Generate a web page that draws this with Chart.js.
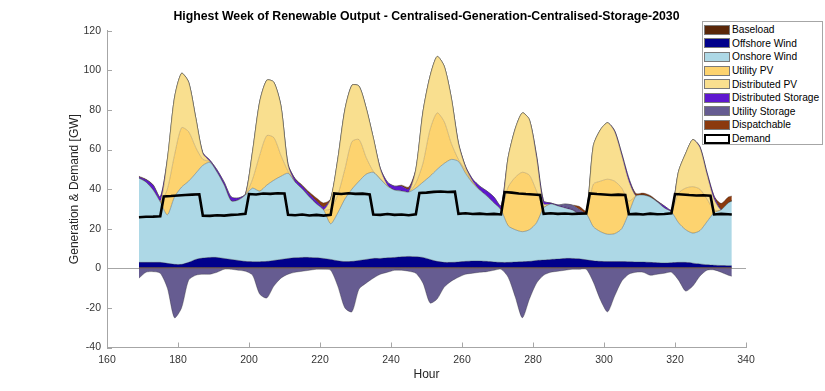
<!DOCTYPE html>
<html>
<head>
<meta charset="utf-8">
<title>Highest Week of Renewable Output</title>
<script src="https://cdn.jsdelivr.net/npm/chart.js@4.4.1/dist/chart.umd.min.js"></script>
<style>
  body { margin: 0; background: #fff; }
  #wrap { position: relative; width: 825px; height: 391px; }
  #legend { position: absolute; left: 702px; top: 21px; width: 121px; height: 124px;
    box-sizing: border-box; border: 1px solid #a6a6a6; background: #fff; padding-top: 1px;
    font: 10.2px "Liberation Sans", Arial, sans-serif; color: #000; }
  #legend .row { display: flex; align-items: center; height: 13.6px; white-space: nowrap; }
  #legend .sw { width: 26px; height: 10px; margin: 0 2px 0 1px; box-sizing: border-box; border: 1px solid #7a7a7a; }
  #legend .sw.line { background: #fff; border: 2.6px solid #000; }
</style>
</head>
<body>
<div id="wrap">
  <canvas id="chart" width="825" height="391"></canvas>
  <div id="legend"></div>
</div>
<script>
const chartTitle = 'Highest Week of Renewable Output - Centralised-Generation-Centralised-Storage-2030';

// hours of the week (2 h steps)
const hours = [169,171,173,175,177,179,181,183,185,187,
  189,191,193,195,197,199,201,203,205,207,
  209,211,213,215,217,219,221,223,225,227,
  229,231,233,235,237,239,241,243,245,247,
  249,251,253,255,257,259,261,263,265,267,
  269,271,273,275,277,279,281,283,285,287,
  289,291,293,295,297,299,301,303,305,307,
  309,311,313,315,317,319,321,323,325,327,
  329,331,333,335,336];

// GW
const baseload = [0.4,0.4,0.4,0.4,0.4,0.4,0.4,0.4,0.4,0.4,
  0.4,0.4,0.4,0.4,0.4,0.4,0.4,0.4,0.4,0.4,
  0.4,0.4,0.4,0.4,0.4,0.4,0.4,0.4,0.4,0.4,
  0.4,0.4,0.4,0.4,0.4,0.4,0.4,0.4,0.4,0.4,
  0.4,0.4,0.4,0.4,0.4,0.4,0.4,0.4,0.4,0.4,
  0.4,0.4,0.4,0.4,0.4,0.4,0.4,0.4,0.4,0.4,
  0.4,0.4,0.4,0.4,0.4,0.4,0.4,0.4,0.4,0.4,
  0.4,0.4,0.4,0.4,0.4,0.4,0.4,0.4,0.4,0.4,
  0.4,0.4,0.4,0.4,0.4];
const offshoreWind = [2.6,2.6,2.6,2.6,2.1,1.6,1.6,2.6,4.1,4.8,
  5.1,5.1,4.6,4.1,3.6,3.1,2.9,2.9,3.1,3.6,
  4.1,4.6,4.9,5.1,5.1,4.9,4.6,4.1,3.4,3.0,
  3.1,3.6,4.1,4.6,4.6,4.9,5.1,5.4,5.6,5.4,
  5.1,4.1,3.1,2.6,2.6,2.8,3.1,3.3,3.3,3.1,
  2.8,2.6,2.6,2.8,2.9,3.1,3.6,3.8,4.1,4.3,
  4.6,4.6,4.4,3.9,3.4,3.1,3.0,3.0,3.0,2.9,
  2.8,2.8,2.6,2.4,2.3,2.4,2.6,2.6,2.2,1.8,
  1.4,1.2,1.0,0.9,0.9];
const onshoreWind = [42.5,40.5,36.5,30.5,24.5,34,39,41,43.5,46.8,
  48,43,37,29.5,30.5,33.5,37.2,35.7,38.5,40.5,
  42,43,38.2,34.5,30.5,27.2,24.5,18,24.2,31.6,
  36.5,40,43,43.5,40,36.2,34,33.2,32.5,34.7,
  38,42,46.5,50,52,50.8,44.5,39.3,35.8,33,
  29.8,26.5,18.5,16.3,15.2,16,19,26.3,28,26.8,
  25.5,24.5,22.7,23.2,17.2,15,13.8,14.1,16.6,24.7,
  33.3,33.8,33,30.7,27.8,25.7,20,16.5,15.2,16.8,
  21.7,26.4,28.1,31.7,32.7];
const utilityPV = [0,0,0,0,13,21,30,25,13,3,
  0.3,0,0,0,0,0,4.5,18,25,21.5,
  10.5,1,0,0,0,0,0,7.5,9,15,
  24,21,8.5,0.5,0.3,0,0,0,0,2.5,
  9.5,23.5,28.5,21,8,1,1.5,0.3,0,0,
  0,0,19.5,26.5,30,27.5,16,0.5,0,0,
  0,0,0,0,21.5,25.5,27.8,26.5,20.5,6,
  0,0,0,0,0,0,15,21,23.4,21,
  11.5,1.5,0,0,0];
const distributedPV = [0,0,0,0,15,29,27.5,25,15,3,
  0.2,0,0,0,0,0,14,27,28,28,
  25,3,0,0,0,0,0,5,18,30,
  28.5,27,25,17,4.7,0.5,0,0,0,7,
  26,27,28.5,28,23,8,1.5,0.7,0,0,
  0,0,15,24.5,30,28,17,1.5,0,0,
  0,0,0,0,19.5,26,28.5,25,16.5,10,
  0,0,0,0,0,0,11,17.5,23.8,21,
  12.5,5.5,0,0,0];
const distributedStorage = [0.6,1.2,2.5,2.5,0,0,0,0,0,0.3,
  0.6,1.2,1.5,2,1,0.5,0,0,0,0,
  0,0.5,1.5,1.5,1.5,1.5,1.5,0,0,0,
  0,0,0,0,0.5,1.5,2,2.5,1.5,0,
  0,0,0,0,0,0.3,0.5,1,2,2.5,
  3,2,0,0,0,0,1,1.5,0.5,0.5,
  0.5,0.5,0.3,0,0,0,0,0.5,1,1.5,
  0.3,0,0,0.3,1,1,0,0,0,0.5,
  1,1.5,0.3,0,0];
const utilityStorageOut = [0,0,0,0,0,0,0,0,0,0,
  0,0,0,0,0,0,0,0,0,0,
  0,0,0,0,0,0,0,0,0,0,
  0,0,0,0,0,0,0,0,0,0,
  0,0,0,0,0,0,0,0,0,0,
  0,0,0,0,0,0,0,0,0,0,
  1.5,2,2,0.5,0,0,0,0,0,0,
  0,0,0,0,0,0,0,0,0,0,
  0,0,0,0,0];
const dispatchable = [0.4,0.3,0.2,0,0,0,0,0,0,0,
  0,0,0,0,0,0,0,0,0,0,
  0,0,0.3,0.5,1,1.5,2,0,0,0,
  0,0,0,0,0,0,0,0.5,1,0,
  0,0,0,0,0,0,0,0,0,0,
  0,0,0,0,0,0,0,0,0,0,
  0,0,1.5,1,0,0,0,0,0,0,
  1,1,0.8,0.3,0,0,0,0,0,0,
  0,0,3,3,2.5];
const utilityStorageIn = [-5,-2,-1.7,-2.5,-10,-25,-20,-6,-3.5,-3,
  -3,-2,-0.5,-0.5,-1,-1.5,-3.5,-13,-15,-9,
  -5,-3,-2,-1.5,-1,-0.5,-0.5,-1,-9,-20,
  -22,-10.5,-7.5,-5,-3,-2,-1,-1,-1.5,-2.5,
  -7.5,-17.5,-15.5,-9.5,-6.5,-4.5,-3,-2.5,-2,-1.7,
  -1,-0.5,-4.5,-14.5,-25,-15.5,-7.5,-3.5,-2,-1.5,
  -1,-0.5,-0.5,-0.5,-7,-16,-22,-14,-6.5,-3,
  -2,-2,-3.5,-3,-2.5,-2,-6,-11.5,-9,-4,
  -1,-0.8,-2,-3.5,-4];

const demandHours = [169,171,173,175,176,178,180,182,184,186,
  187,189,191,193,195,197,199,200,202,204,206,208,210,
  211,213,215,217,219,221,223,224,226,228,230,232,234,
  235,237,239,241,243,245,247,248,250,252,254,256,258,
  259,261,263,265,267,269,271,272,274,276,278,280,282,
  283,285,287,289,291,293,295,296,298,300,302,304,306,
  307,309,311,313,315,317,319,320,322,324,326,328,330,
  331,333,335,336];
const demand = [25.8,26,26.1,26.3,36.3,36.5,36.8,37,37.2,37.4,
  26.6,26.5,26.8,26.6,27,27.2,27.5,37.5,37.3,37.8,37.6,37.9,37.8,
  27,26.8,27.2,26.7,27,26.6,27,37.8,37.5,37.9,37.6,37.7,37.3,
  27.2,27,27.4,27,27.2,26.8,27.3,38,38.2,38.6,38.8,38.5,38.7,
  27.5,27.8,27.4,27.6,27.3,27.5,27.2,38.5,38.2,37.8,37.5,37.3,37,
  27.5,27.8,27.5,27.7,27.4,27.6,27.7,37.8,37.5,37.3,37,37.2,37,
  27.3,27.5,27.2,27.6,27.3,27.4,27.8,37.5,37.3,37,36.8,36.9,36.7,
  27.2,27.5,27.3,27.2];

const colors = {
  baseload: '#5a2709',
  offshore: '#00008b',
  onshore: '#add8e6',
  utilityPV: '#fdd36f',
  distributedPV: '#f9df8f',
  distStorage: '#5e17cf',
  utilStorage: '#665c91',
  dispatchable: '#8b3a0e'
};

const fontFamily = "'Liberation Sans', Arial, Helvetica, sans-serif";
Chart.defaults.font.family = fontFamily;

function area(label, data, color, extra) {
  return Object.assign({
    label: label,
    data: data,
    backgroundColor: color,
    borderColor: 'rgba(40,40,40,0.55)',
    borderWidth: 0.6,
    fill: '-1',
    pointRadius: 0,
    tension: 0.25,
    stack: 'gen'
  }, extra);
}

const datasets = [
  area('Baseload', baseload, colors.baseload, {fill: 'origin'}),
  area('Offshore Wind', offshoreWind, colors.offshore),
  area('Onshore Wind', onshoreWind, colors.onshore),
  area('Utility PV', utilityPV, colors.utilityPV, {borderColor: 'rgba(120,100,60,0.5)'}),
  area('Distributed PV', distributedPV, colors.distributedPV),
  area('Distributed Storage', distributedStorage, colors.distStorage),
  area('Utility Storage out', utilityStorageOut, colors.utilStorage),
  area('Dispatchable', dispatchable, colors.dispatchable),
  area('Utility Storage', utilityStorageIn, colors.utilStorage, {fill: 'origin', stack: 'store'}),
  {
    label: 'Demand',
    data: demandHours.map((h, i) => ({x: h, y: demand[i]})),
    borderColor: '#000',
    borderWidth: 2.6,
    fill: false,
    pointRadius: 0,
    tension: 0,
    stack: 'dem',
    order: -1
  }
];

// matlab style tick marks pointing into the axes, and the title centred over the axes
const axesDecor = {
  id: 'axesDecor',
  afterDraw(chart) {
    const {ctx, chartArea: a, scales: {x, y}} = chart;
    ctx.save();
    ctx.strokeStyle = '#a6a6a6';
    ctx.lineWidth = 1;
    ctx.beginPath();
    x.ticks.forEach(t => {
      const px = Math.round(x.getPixelForValue(t.value)) + 0.5;
      ctx.moveTo(px, a.bottom);
      ctx.lineTo(px, a.bottom - 5);
    });
    y.ticks.forEach(t => {
      const py = Math.round(y.getPixelForValue(t.value)) + 0.5;
      ctx.moveTo(a.left, py);
      ctx.lineTo(a.left + 5, py);
    });
    ctx.stroke();
    ctx.fillStyle = '#000';
    ctx.font = 'bold 12.3px ' + fontFamily;
    ctx.textAlign = 'center';
    ctx.textBaseline = 'middle';
    ctx.fillText(chartTitle, (a.left + a.right) / 2, 17);
    ctx.restore();
  }
};

new Chart(document.getElementById('chart'), {
  type: 'line',
  data: {labels: hours, datasets: datasets},
  plugins: [axesDecor],
  options: {
    responsive: false,
    animation: false,
    layout: {padding: {left: 0, right: 79, top: 30.7, bottom: 0}},
    plugins: {
      legend: {display: false},
      tooltip: {enabled: false},
      title: {display: false}
    },
    scales: {
      x: {
        type: 'linear',
        min: 160,
        max: 340,
        ticks: {stepSize: 20, color: '#333', font: {size: 10.5}, padding: 6, maxRotation: 0},
        grid: {display: false, drawTicks: false},
        border: {display: true, color: '#a6a6a6'},
        title: {display: true, text: 'Hour', color: '#262626', font: {size: 12}, padding: {top: 0, bottom: 8.8}},
        afterFit: s => { s.height = 43.5; }
      },
      y: {
        min: -40,
        max: 120,
        stacked: 'single',
        ticks: {stepSize: 20, color: '#333', font: {size: 10.5}, padding: 6},
        grid: {
          drawTicks: false,
          color: c => (c.tick && c.tick.value === 0) ? '#a6a6a6' : 'rgba(0,0,0,0)'
        },
        border: {display: true, color: '#a6a6a6'},
        title: {display: true, text: 'Generation & Demand [GW]', color: '#262626', font: {size: 12}, padding: {top: 67.8, bottom: 0}},
        afterFit: s => { s.width = 107; }
      }
    }
  }
});

// legend box in the upper right corner of the axes
const legendItems = [
  ['Baseload', colors.baseload],
  ['Offshore Wind', colors.offshore],
  ['Onshore Wind', colors.onshore],
  ['Utility PV', colors.utilityPV],
  ['Distributed PV', colors.distributedPV],
  ['Distributed Storage', colors.distStorage],
  ['Utility Storage', colors.utilStorage],
  ['Dispatchable', colors.dispatchable],
  ['Demand', null]
];
const legendEl = document.getElementById('legend');
legendItems.forEach(([name, color]) => {
  const row = document.createElement('div');
  row.className = 'row';
  const sw = document.createElement('span');
  sw.className = color ? 'sw' : 'sw line';
  if (color) sw.style.background = color;
  const txt = document.createElement('span');
  txt.textContent = name;
  row.appendChild(sw);
  row.appendChild(txt);
  legendEl.appendChild(row);
});
</script>
</body>
</html>
